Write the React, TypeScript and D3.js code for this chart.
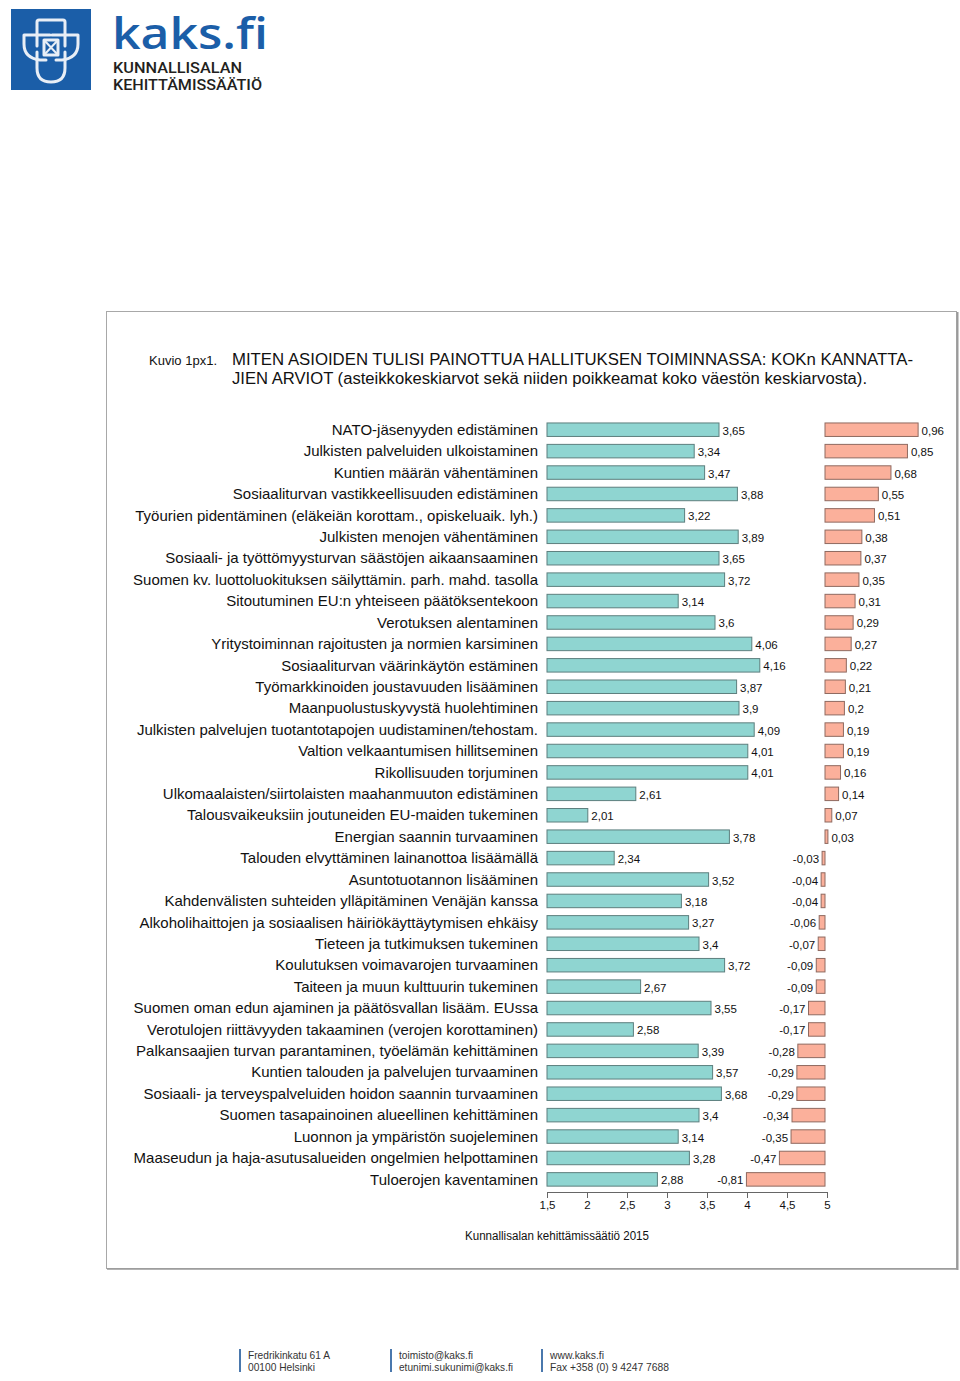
import React, { useEffect, useRef } from "react";
import * as d3 from "d3";

const categories = [
  "NATO-jäsenyyden edistäminen",
  "Julkisten palveluiden ulkoistaminen",
  "Kuntien määrän vähentäminen",
  "Sosiaaliturvan vastikkeellisuuden edistäminen",
  "Työurien pidentäminen (eläkeiän korottam., opiskeluaik. lyh.)",
  "Julkisten menojen vähentäminen",
  "Sosiaali- ja työttömyysturvan säästöjen aikaansaaminen",
  "Suomen kv. luottoluokituksen säilyttämin. parh. mahd. tasolla",
  "Sitoutuminen EU:n yhteiseen päätöksentekoon",
  "Verotuksen alentaminen",
  "Yritystoiminnan rajoitusten ja normien karsiminen",
  "Sosiaaliturvan väärinkäytön estäminen",
  "Työmarkkinoiden joustavuuden lisääminen",
  "Maanpuolustuskyvystä huolehtiminen",
  "Julkisten palvelujen tuotantotapojen uudistaminen/tehostam.",
  "Valtion velkaantumisen hillitseminen",
  "Rikollisuuden torjuminen",
  "Ulkomaalaisten/siirtolaisten maahanmuuton edistäminen",
  "Talousvaikeuksiin joutuneiden EU-maiden tukeminen",
  "Energian saannin turvaaminen",
  "Talouden elvyttäminen lainanottoa lisäämällä",
  "Asuntotuotannon lisääminen",
  "Kahdenvälisten suhteiden ylläpitäminen Venäjän kanssa",
  "Alkoholihaittojen ja sosiaalisen häiriökäyttäytymisen ehkäisy",
  "Tieteen ja tutkimuksen tukeminen",
  "Koulutuksen voimavarojen turvaaminen",
  "Taiteen ja muun kulttuurin tukeminen",
  "Suomen oman edun ajaminen ja päätösvallan lisääm. EUssa",
  "Verotulojen riittävyyden takaaminen (verojen korottaminen)",
  "Palkansaajien turvan parantaminen, työelämän kehittäminen",
  "Kuntien talouden ja palvelujen turvaaminen",
  "Sosiaali- ja terveyspalveluiden hoidon saannin turvaaminen",
  "Suomen tasapainoinen alueellinen kehittäminen",
  "Luonnon ja ympäristön suojeleminen",
  "Maaseudun ja haja-asutusalueiden ongelmien helpottaminen",
  "Tuloerojen kaventaminen",
];

const means = [
  3.65, 3.34, 3.47, 3.88, 3.22, 3.89, 3.65, 3.72, 3.14, 3.6, 4.06, 4.16, 3.87,
  3.9, 4.09, 4.01, 4.01, 2.61, 2.01, 3.78, 2.34, 3.52, 3.18, 3.27, 3.4, 3.72,
  2.67, 3.55, 2.58, 3.39, 3.57, 3.68, 3.4, 3.14, 3.28, 2.88,
];

const diffs = [
  0.96, 0.85, 0.68, 0.55, 0.51, 0.38, 0.37, 0.35, 0.31, 0.29, 0.27, 0.22, 0.21,
  0.2, 0.19, 0.19, 0.16, 0.14, 0.07, 0.03, -0.03, -0.04, -0.04, -0.06, -0.07,
  -0.09, -0.09, -0.17, -0.17, -0.28, -0.29, -0.29, -0.34, -0.35, -0.47, -0.81,
];

const xTicks = [1.5, 2, 2.5, 3, 3.5, 4, 4.5, 5];

const titleLabel = "Kuvio 1px1.";
const titleLines = [
  "MITEN ASIOIDEN TULISI PAINOTTUA HALLITUKSEN TOIMINNASSA: KOKn KANNATTA-",
  "JIEN ARVIOT (asteikkokeskiarvot sekä niiden poikkeamat koko väestön keskiarvosta).",
];
const sourceText = "Kunnallisalan kehittämissäätiö 2015";

const footerCols = [
  ["Fredrikinkatu 61 A", "00100 Helsinki"],
  ["toimisto@kaks.fi", "etunimi.sukunimi@kaks.fi"],
  ["www.kaks.fi", "Fax +358 (0) 9 4247 7688"],
];

const fmt = (v: number) => String(v).replace(".", ",");

const FONT = "'Liberation Sans', Arial, sans-serif";

export default function App() {
  const axisRef = useRef<SVGGElement>(null);

  const xScale = d3.scaleLinear().domain([1.5, 5]).range([547, 827]);
  const dScale = d3.scaleLinear().domain([-1, 1]).range([728, 922]);
  const yScale = d3
    .scaleBand<string>()
    .domain(categories)
    .range([419, 1190.1])
    .paddingInner(0.37)
    .paddingOuter(0.185);
  const bw = yScale.bandwidth();

  useEffect(() => {
    if (!axisRef.current) return;
    const g = d3.select(axisRef.current);
    g.selectAll("*").remove();
    g.call(
      d3
        .axisBottom(xScale)
        .tickValues(xTicks)
        .tickSize(6)
        .tickSizeOuter(0)
        .tickPadding(3)
        .tickFormat((d) => fmt(d as number))
    );
    g.select(".domain").attr("stroke", "#666");
    g.selectAll(".tick line").attr("stroke", "#666");
    g.selectAll(".tick text")
      .attr("font-family", FONT)
      .attr("font-size", 11.5)
      .attr("fill", "#111");
  }, []);

  const footerX = [240, 391, 542];
  const footerWidths = [
    [82, 67],
    [74, 114],
    [54, 119],
  ];

  return (
    <svg
      width={960}
      height={1381}
      style={{ position: "absolute", left: 0, top: 0, background: "#fff" }}
      fontFamily={FONT}
    >
      <rect x={0} y={0} width={960} height={1381} fill="#fff" />

      {/* Logo */}
      <g>
        <rect x={11} y={9} width={80} height={81} fill="#1b5ea8" />
        <g fill="none" stroke="#e8eef6" strokeWidth={3} strokeLinejoin="round" strokeLinecap="round">
          <path d="M37,46 V22 Q37,20 39,20 H63 Q65,20 65,22 V46" />
          <path d="M50,35 H24 V44 Q24,58 40,60 H46" />
          <path d="M52,35 H78 V44 Q78,58 62,60 H56" />
          <path d="M37,52 V68 Q37,82 51,82 Q65,82 65,68 V52" />
          <path d="M44,40 H58 V55 H44 Z" />
          <path d="M44,40 L58,55 M58,40 L44,55" strokeWidth={2} />
        </g>
        <text
          x={112}
          y={49}
          fontFamily="'Open Sans', sans-serif"
          fontWeight={600}
          fontSize={44}
          fill="#1b5ea8"
          textLength={156}
          lengthAdjust="spacingAndGlyphs"
        >
          kaks.fi
        </text>
        <text
          x={113}
          y={73}
          fontFamily="Roboto, sans-serif"
          fontWeight={500}
          fontSize={14}
          fill="#231f20"
          textLength={129}
          lengthAdjust="spacingAndGlyphs"
        >
          KUNNALLISALAN
        </text>
        <text
          x={113}
          y={90}
          fontFamily="Roboto, sans-serif"
          fontWeight={500}
          fontSize={14}
          fill="#231f20"
          textLength={149}
          lengthAdjust="spacingAndGlyphs"
        >
          KEHITTÄMISSÄÄTIÖ
        </text>
      </g>

      {/* Frame */}
      <rect x={106.5} y={311.5} width={850} height={957} fill="#fff" stroke="#a8a8a8" strokeWidth={1} />
      <line x1={957.5} y1={312} x2={957.5} y2={1270} stroke="#9a9a9a" strokeWidth={2} />
      <line x1={107} y1={1269} x2={958} y2={1269} stroke="#9a9a9a" strokeWidth={1.5} />

      {/* Title */}
      <text x={149} y={364.5} fontSize={12.5} fill="#111" textLength={68} lengthAdjust="spacingAndGlyphs">
        {titleLabel}
      </text>
      <text x={232} y={365} fontSize={16} fill="#111" textLength={681} lengthAdjust="spacingAndGlyphs">
        {titleLines[0]}
      </text>
      <text x={232} y={383.5} fontSize={16} fill="#111" textLength={635} lengthAdjust="spacingAndGlyphs">
        {titleLines[1]}
      </text>

      {/* Category labels */}
      {categories.map((c) => (
        <text
          key={"l" + c}
          x={538}
          y={(yScale(c) as number) + bw / 2 + 5.2}
          fontSize={15}
          textAnchor="end"
          fill="#111"
        >
          {c}
        </text>
      ))}

      {/* Mean bars */}
      {categories.map((c, i) => {
        const y0 = yScale(c) as number;
        const x1 = xScale(means[i]);
        return (
          <g key={"m" + c}>
            <rect
              x={xScale(1.5)}
              y={y0}
              width={x1 - xScale(1.5)}
              height={bw}
              fill="#8fd5d1"
              stroke="#5d7f7e"
              strokeWidth={1}
            />
            <text x={x1 + 3.5} y={y0 + bw / 2 + 5} fontSize={11.5} fill="#111">
              {fmt(means[i])}
            </text>
          </g>
        );
      })}

      {/* Difference bars */}
      {categories.map((c, i) => {
        const y0 = yScale(c) as number;
        const v = diffs[i];
        const xa = dScale(Math.min(0, v));
        const xb = dScale(Math.max(0, v));
        return (
          <g key={"d" + c}>
            <rect
              x={xa}
              y={y0}
              width={Math.max(0.5, xb - xa)}
              height={bw}
              fill="#fbb09b"
              stroke="#8f6a60"
              strokeWidth={1}
            />
            <text
              x={v >= 0 ? xb + 3.5 : xa - 3}
              y={y0 + bw / 2 + 5}
              fontSize={11.5}
              fill="#111"
              textAnchor={v >= 0 ? "start" : "end"}
            >
              {fmt(v)}
            </text>
          </g>
        );
      })}

      {/* Axis */}
      <g ref={axisRef} transform="translate(0,1192)" />

      {/* Source */}
      <text x={465} y={1240} fontSize={12.5} fill="#111" textLength={184} lengthAdjust="spacingAndGlyphs">
        {sourceText}
      </text>

      {/* Footer */}
      {footerCols.map((col, i) => (
        <g key={"f" + i}>
          <line x1={footerX[i]} y1={1349} x2={footerX[i]} y2={1372} stroke="#4a78ad" strokeWidth={2} />
          {col.map((t, j) => (
            <text
              key={t}
              x={footerX[i] + 8}
              y={1358.5 + j * 12}
              fontSize={10.5}
              fill="#333"
              textLength={footerWidths[i][j]}
              lengthAdjust="spacingAndGlyphs"
            >
              {t}
            </text>
          ))}
        </g>
      ))}
    </svg>
  );
}
